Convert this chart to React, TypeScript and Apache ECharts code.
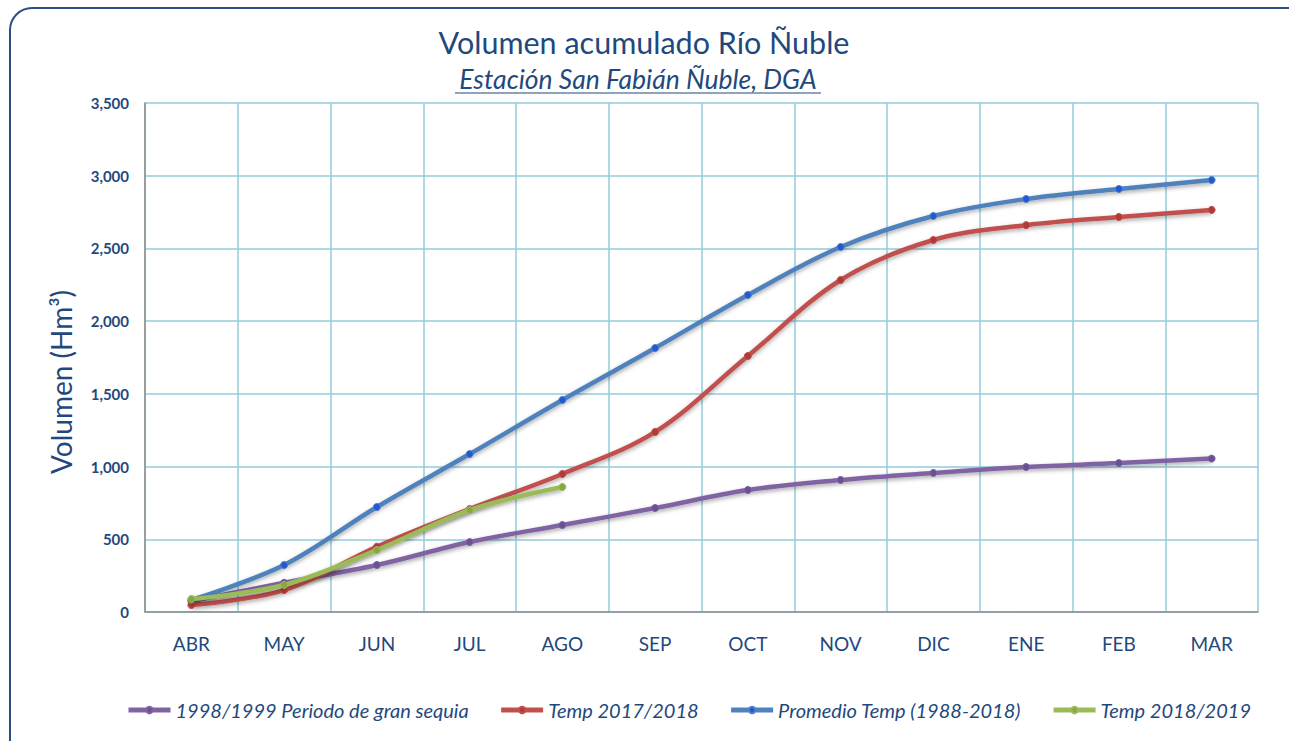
import React, { useEffect, useRef } from "react";
import * as echarts from "echarts";

const months = ["ABR", "MAY", "JUN", "JUL", "AGO", "SEP", "OCT", "NOV", "DIC", "ENE", "FEB", "MAR"];
const sequia9899 = [75, 201, 323, 481, 598, 715, 839, 908, 956, 997, 1024, 1055];
const temp1718 = [48, 151, 449, 708, 949, 1238, 1760, 2283, 2558, 2660, 2716, 2765];
const promedio = [83, 323, 722, 1086, 1458, 1815, 2180, 2510, 2723, 2840, 2909, 2970];
const temp1819 = [89, 186, 426, 701, 860];

const seriesNames = [
  "1998/1999 Periodo de gran sequia",
  "Temp 2017/2018",
  "Promedio Temp (1988-2018)",
  "Temp 2018/2019",
];
const seriesColors = ["#8064A2", "#C0504D", "#4F81BD", "#9BBB59"];
const symbolColors = ["#6E4F96", "#B03A38", "#2456D8", "#86A83F"];
const seriesData = [sequia9899, temp1718, promedio, temp1819];

const navy = "#1F497D";

export default function App() {
  const ref = useRef<HTMLDivElement>(null);
  useEffect(() => {
    const chart = echarts.init(ref.current!, null, { renderer: "svg" });
    chart.setOption({
      animation: false,
      backgroundColor: "#ffffff",
      title: [
        {
          text: "Volumen acumulado Río Ñuble",
          left: 639,
          textAlign: "center",
          top: 21,
          textStyle: { fontFamily: "Lato", fontSize: 30.5, fontWeight: "normal", color: navy },
        },
      ],
      graphic: [
        {
          type: "rect",
          shape: { x: 10, y: 8, width: 1320, height: 780, r: 22 },
          style: { fill: "none", stroke: "#2B4F80", lineWidth: 2 },
          silent: true,
        },
        {
          type: "text",
          x: 638,
          y: 79,
          style: {
            text: "Estación San Fabián Ñuble, DGA",
            fontFamily: "Lato",
            fontStyle: "italic",
            fontSize: 26.5,
            fill: navy,
            textAlign: "center",
            textVerticalAlign: "middle",
          },
        },
        {
          type: "line",
          shape: { x1: 455, y1: 93, x2: 821, y2: 93 },
          style: { stroke: navy, lineWidth: 1.2 },
        },
        {
          type: "text",
          x: 61,
          y: 382,
          rotation: Math.PI / 2,
          style: {
            text: "Volumen (Hm³)",
            fontFamily: "Lato",
            fontSize: 28,
            fill: navy,
            textAlign: "center",
            textVerticalAlign: "middle",
          },
        },
      ],
      legend: {
        data: seriesNames,
        left: 121,
        top: 695,
        itemWidth: 42,
        itemHeight: 8,
        itemGap: 30,
        lineStyle: { width: 5 },
        textStyle: { fontFamily: "Lato", fontStyle: "italic", fontSize: 20, color: navy },
      },
      grid: { left: 145, right: 31, top: 103, bottom: 129 },
      xAxis: {
        type: "category",
        data: months,
        boundaryGap: true,
        axisLine: { lineStyle: { color: "#8C8C8C", width: 1.5 } },
        axisTick: { alignWithLabel: true, length: 5, lineStyle: { color: "#8C8C8C" } },
        axisLabel: { fontFamily: "Lato", fontSize: 19, color: navy, margin: 22 },
        splitLine: { show: true, lineStyle: { color: "#92CDDC", width: 1.5 } },
      },
      yAxis: {
        type: "value",
        min: 0,
        max: 3500,
        interval: 500,
        axisLine: { show: true, lineStyle: { color: "#8C8C8C", width: 1.5 } },
        axisTick: { show: false },
        axisLabel: {
          fontFamily: "Lato",
          fontSize: 15,
          fontWeight: "bold",
          color: navy,
          margin: 16,
          formatter: (v: number) => v.toLocaleString("en-US"),
        },
        splitLine: { show: true, lineStyle: { color: "#92CDDC", width: 1.5 } },
      },
      series: seriesNames.map((name, i) => ({
        name,
        type: "line",
        smooth: 0.35,
        data: seriesData[i],
        symbol: "circle",
        symbolSize: 7,
        lineStyle: {
          color: seriesColors[i],
          width: 4.5,
          shadowColor: "rgba(0,0,0,0.35)",
          shadowBlur: 4,
          shadowOffsetY: 2,
        },
        itemStyle: { color: symbolColors[i], borderColor: seriesColors[i], borderWidth: 1 },
        z: 2 + i,
      })),
    });
    return () => chart.dispose();
  }, []);
  return (
    <div
      ref={ref}
      style={{ position: "fixed", left: 0, top: 0, width: 1289, height: 741 }}
    />
  );
}
